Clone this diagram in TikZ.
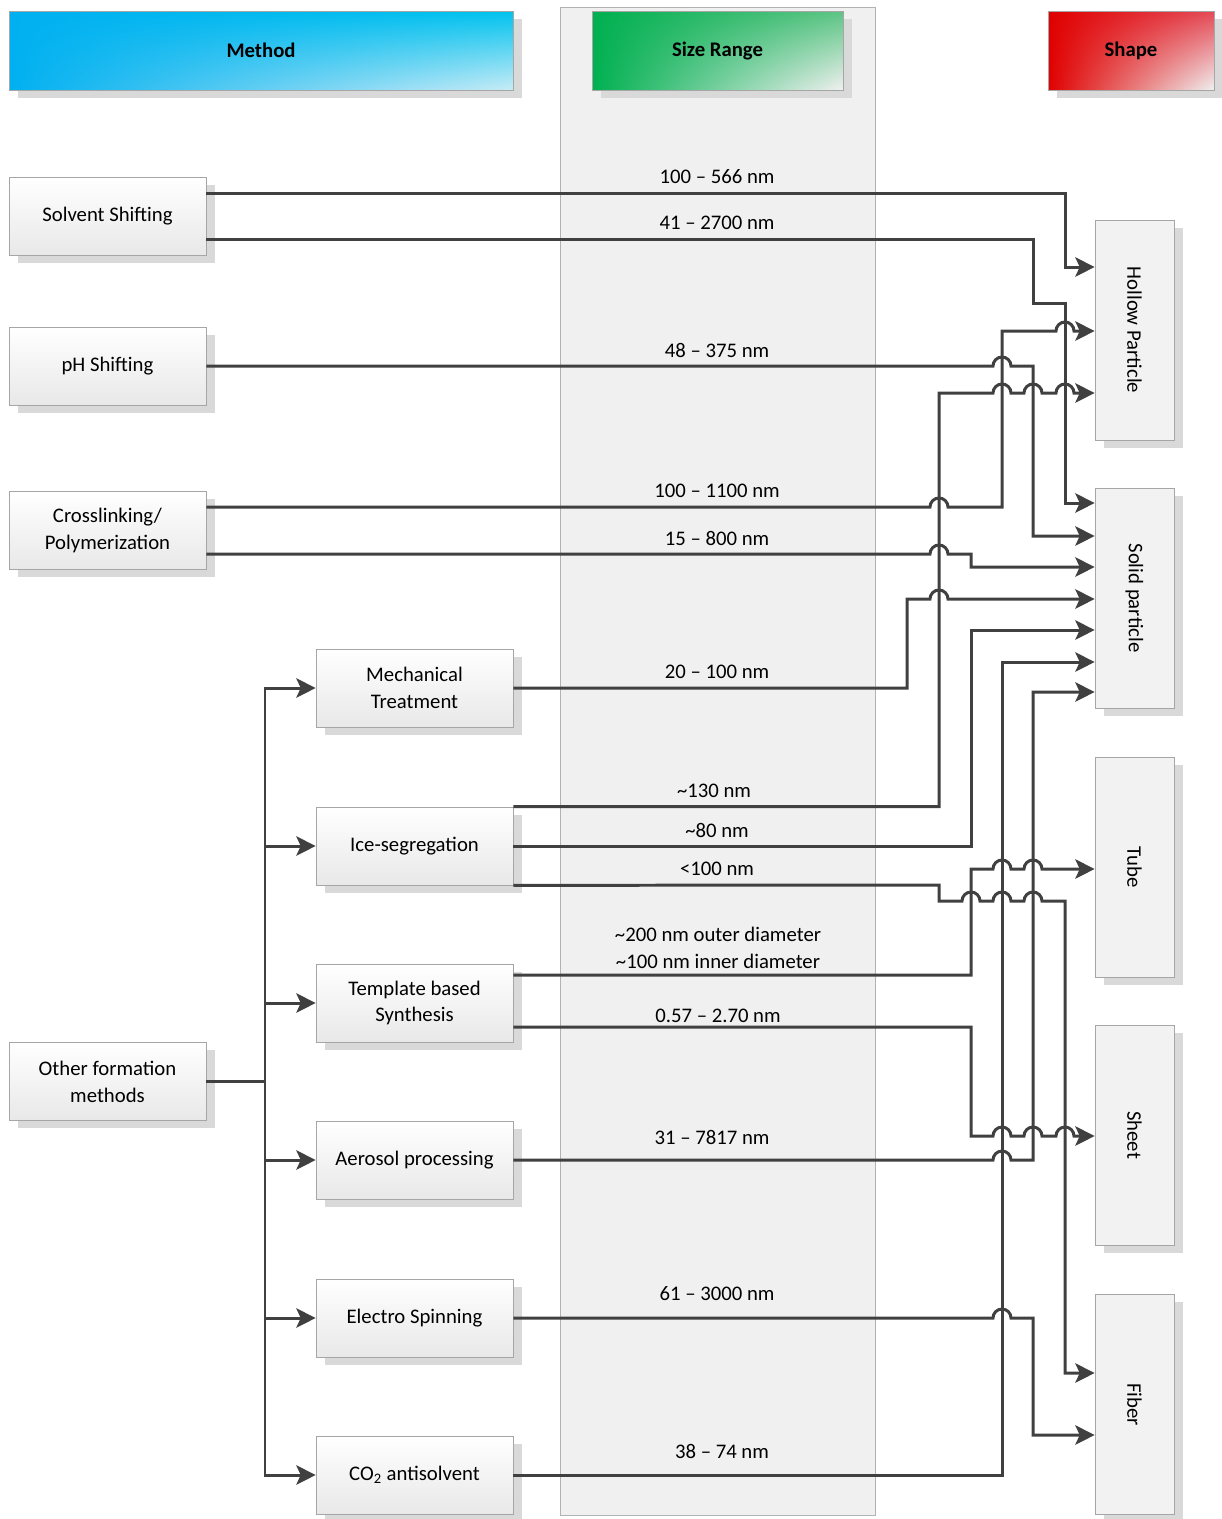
\documentclass[tikz,border=0pt]{standalone}
\usepackage{fontspec}
\setmainfont{Carlito}
\usetikzlibrary{arrows.meta,shadows,shadings}

\definecolor{linegray}{HTML}{404040}
\definecolor{boxline}{HTML}{A6A6A6}
\definecolor{methodblue}{HTML}{00B0F0}
\definecolor{methodcyan}{HTML}{00C2EE}
\definecolor{methodlight}{HTML}{C8ECF6}
\definecolor{rangegreen}{HTML}{00B050}
\definecolor{rangelight}{HTML}{5CC484}
\definecolor{shapered}{HTML}{E00000}
\definecolor{shapelight}{HTML}{E44A56}
\definecolor{fadegray}{HTML}{F0F0F0}
\tikzset{
  shadowed/.style={drop shadow={shadow xshift=5pt,shadow yshift=-4.5pt,fill=black!15,opacity=1}},
  box/.style={draw=boxline, top color=white, bottom color=black!9, minimum width=3.94cm,
    minimum height=1.56cm, inner sep=0pt, align=center, shadowed},
  shapebox/.style={draw=boxline, fill=black!5, minimum width=1.58cm, minimum height=4.4cm,
    inner sep=0pt, shadowed},
  header/.style={draw=boxline, shade, minimum height=1.58cm, inner sep=0pt,
    font=\fontsize{11.8}{15.3}\selectfont\bfseries, shadowed},
  plain/.style={draw=linegray, line width=1.7pt},
  link/.style={plain, -{Stealth[length=11pt,width=11pt,inset=2.5pt]}},
  jump/.style={insert path={arc[start angle=180,end angle=0,radius=0.18cm]}},
  lbl/.style={inner sep=1pt}
}

\begin{document}
\begin{tikzpicture}[x=0.02cm,y=-0.02cm,font=\fontsize{11.8}{15.3}\selectfont]
  \useasboundingbox (0,0) rectangle (1222,1519);

  % size range column
  \node[draw=black!30, fill=black!6, minimum width=6.3cm, minimum height=30.16cm, inner sep=0pt] (range) at (717.5,761) {};

  % headers
  \node[header, minimum width=10.08cm, upper left=methodblue, upper right=methodcyan, lower left=methodblue, lower right=methodlight] (method) at (261,50.5) {Method};
  \node[header, minimum width=5.02cm, upper left=rangegreen, upper right=rangelight, lower left=rangegreen, lower right=fadegray] (size) at (717.5,50.5) {Size Range};
  \node[header, minimum width=3.32cm, upper left=shapered, upper right=shapelight, lower left=shapered, lower right=fadegray] (shape) at (1131,50.5) {Shape};

  % methods
  \node[box] (solvent) at (107.5,216) {Solvent Shifting};
  \node[box] (ph) at (107.5,366) {pH Shifting};
  \node[box] (cross) at (107.5,530.5) {Crosslinking/\\Polymerization};
  \node[box] (other) at (107.5,1081.5) {Other formation\\methods};
  \node[box] (mech) at (414.5,688) {Mechanical\\Treatment};
  \node[box] (ice) at (414.5,846) {Ice-segregation};
  \node[box] (templ) at (414.5,1003) {Template based\\Synthesis};
  \node[box] (aero) at (414.5,1160) {Aerosol processing};
  \node[box] (electro) at (414.5,1318) {Electro Spinning};
  \node[box] (co2) at (414.5,1475) {CO\textsubscript{2} antisolvent};

  % shapes
  \node[shapebox, label={[rotate=-90]center:Hollow Particle}] (hollow) at (1134.5,330) {};
  \node[shapebox, label={[rotate=-90]center:Solid particle}] (solid) at (1134.5,598) {};
  \node[shapebox, label={[rotate=-90]center:Tube}] (tube) at (1134.5,867) {};
  \node[shapebox, label={[rotate=-90]center:Sheet}] (sheet) at (1134.5,1135) {};
  \node[shapebox, label={[rotate=-90]center:Fiber}] (fiber) at (1134.5,1404.5) {};

  % other formation methods
  \coordinate (fork) at (265,1081.5);
  \draw[plain] (other.east) -- (fork);
  \foreach \m in {mech,ice,templ,aero,electro,co2}
    \draw[link] (fork) |- (\m.west);

  % connectors
  \draw[link] (solvent.east) ++(0,-23) -- (1065,193) |- (hollow.west |- 0,267);
  \draw[link] (solvent.east) ++(0,23) -- (1033,239) -- (1033,303) -- (1065,303) |- (solid.west |- 0,503);
  \draw[link] (ph.east) -- (993,366) [jump] -- (1033,366) |- (solid.west |- 0,536);
  \draw[link] (cross.east) ++(0,-23.5) -- (930,507) [jump] -- (1002,507) -- (1002,331) -- (1056,331) [jump] -- (hollow.west |- 0,331);
  \draw[link] (cross.east) ++(0,23.5) -- (930,554) [jump] -- (971,554) |- (solid.west |- 0,567);
  \draw[link] (mech.east) -| (907,599) -- (930,599) [jump] -- (solid.west |- 0,599);
  \draw[link] (ice.north east) -| (939,393) -- (993,393) [jump] -- (1024,393) [jump] -- (1056,393) [jump] -- (hollow.west |- 0,393);
  \draw[link] (ice.east) -| (971,630) -- (solid.west |- 0,630);
  \draw[link] (ice.south east) -- (939,885) -- (939,901) -- (962,901) [jump] -- (993,901) [jump] -- (1024,901) [jump] -- (1065,901) |- (fiber.west |- 0,1373);
  \draw[link] (templ.east) ++(0,-28) -| (971,869) -- (993,869) [jump] -- (1024,869) [jump] -- (tube.west |- 0,869);
  \draw[link] (templ.east) ++(0,24) -| (971,1136) -- (993,1136) [jump] -- (1024,1136) [jump] -- (1056,1136) [jump] -- (sheet.west |- 0,1136);
  \draw[link] (aero.east) -- (993,1160) [jump] -- (1033,1160) |- (solid.west |- 0,692);
  \draw[link] (electro.east) -- (993,1318) [jump] -- (1033,1318) |- (fiber.west |- 0,1435);
  \draw[link] (co2.east) -| (1002,662) -- (solid.west |- 0,662);

  % size labels
  \node[lbl] (r1) at (717,177) {100 – 566 nm};
  \node[lbl] (r2) at (717,223) {41 – 2700 nm};
  \node[lbl] (r3) at (717,350) {48 – 375 nm};
  \node[lbl] (r4) at (717,491) {100 – 1100 nm};
  \node[lbl] (r5) at (717,538) {15 – 800 nm};
  \node[lbl] (r6) at (717,672) {20 – 100 nm};
  \node[lbl] (r7) at (714,791) {\textasciitilde130 nm};
  \node[lbl] (r8) at (717,830) {\textasciitilde80 nm};
  \node[lbl] (r9) at (717,869) {<100 nm};
  \node[lbl, align=center] (r10) at (718,948) {\textasciitilde200 nm outer diameter\\\textasciitilde100 nm inner diameter};
  \node[lbl] (r11) at (718,1016) {0.57 – 2.70 nm};
  \node[lbl] (r12) at (712,1137) {31 – 7817 nm};
  \node[lbl] (r13) at (717,1294) {61 – 3000 nm};
  \node[lbl] (r14) at (722,1451) {38 – 74 nm};
\end{tikzpicture}
\end{document}
